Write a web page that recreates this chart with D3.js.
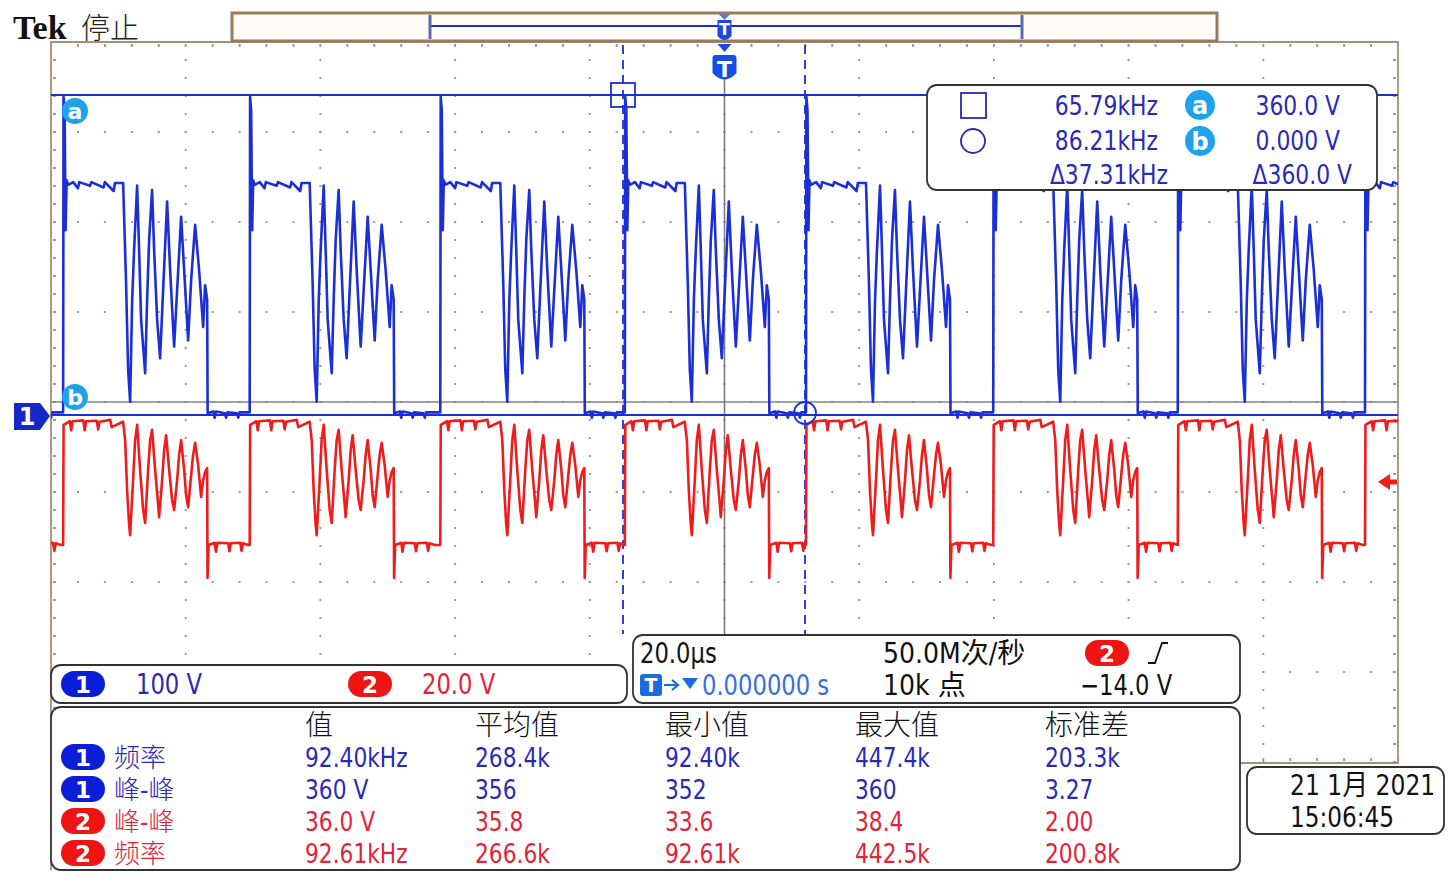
<!DOCTYPE html>
<html><head><meta charset="utf-8">
<script src="https://cdn.jsdelivr.net/npm/d3@7"></script>
<style>
body{margin:0;background:#fff}
svg{display:block}
text{font-family:"Liberation Sans Narrow","DejaVu Sans Condensed","Noto Sans CJK SC",sans-serif}
</style></head>
<body><svg id="c" width="1449" height="888"></svg>
<script>
// ---------------- DATA ----------------
// rising-edge times of each switching cycle (µs, relative to trigger)
const riseTimes = [-126.0, -98.2, -70.5, -42.2, -14.8, 12.1, 39.9, 67.3, 95.1];
// channel 1 (blue) shape of one cycle: [µs after rising edge, volts]
const ch1Cycle = [
  [0,3],[0.06,358],[0.22,343],[0.37,208],[0.52,264],[0.74,259],
  [1.5,262],[2.2,255],[2.4,262],[4.0,258],[4.2,262],[6.0,256],[6.2,262],[7.5,252],[7.7,261],[8.91,261],
  [9.35,148],[9.65,51],[9.95,15],[10.25,129],[10.54,186],[10.99,258],
  [11.28,186],[11.58,107],[12.18,47],[12.47,129],[12.77,197],[13.21,253],
  [13.51,186],[13.96,107],[14.40,64],[14.85,141],[15.44,240],
  [15.89,163],[16.48,77],[16.93,141],[17.52,223],
  [17.97,163],[18.56,84],[19.01,152],[19.60,214],
  [20.19,163],[20.79,99],[21.08,146],[21.38,130],[21.46,2],
  [22.3,4],[22.5,-3],[22.7,4],[24.0,2],[24.2,-3],[24.4,3],[25.8,2],[26.0,-3],[26.2,3],[27.5,3]
];
// channel 2 (red) shape of one cycle: [µs after rising edge, volts]
const ch2Cycle = [
  [0,-28],[0.07,-1.3],
  [1.0,-0.5],[1.2,-2.5],[1.4,-0.5],[3.0,-0.3],[3.2,-2.5],[3.4,-0.5],[5.0,-0.4],[5.2,-2.3],[5.4,-0.6],[7.0,-0.2],[7.2,-1.8],[8.9,-0.6],
  [9.21,-4.7],[9.50,-15.8],[9.80,-23.6],[9.95,-25.8],[10.39,-13.6],[10.69,-4.7],[10.99,-1.3],
  [11.43,-11.3],[11.88,-20.2],[12.18,-23.1],[12.62,-11.3],[12.92,-4.7],[13.21,-2.4],
  [13.66,-11.3],[14.11,-19.1],[14.25,-21.8],[14.70,-13.6],[15.00,-6.9],[15.29,-3.6],
  [15.74,-11.3],[16.18,-18.0],[16.48,-20.2],[16.93,-13.6],[17.22,-8.0],[17.52,-4.7],
  [17.97,-11.3],[18.26,-16.9],[18.56,-19.6],[19.01,-12.4],[19.30,-8.0],[19.60,-5.3],
  [20.04,-10.2],[20.49,-17.3],[20.79,-13.6],[21.08,-11.8],[21.38,-10.9],
  [21.44,-35.3],[21.60,-28],
  [22.5,-27.5],[22.7,-29.5],[22.9,-27.5],[24.5,-27.6],[24.7,-29.4],[24.9,-27.6],[26.3,-27.5],[26.5,-29.3],[26.7,-27.6],[27.5,-28]
];
const cursorTimes = [-15.07, 11.95];     // µs (square, circle)
const cursorVolts = [360, 0];            // V (a, b)
const trigLevel = -14.0;                 // V on ch2

const readFreq = ["65.79kHz","86.21kHz","Δ37.31kHz"];
const readVolt = ["360.0 V","0.000 V","Δ360.0 V"];

const chanScale = ["100 V","20.0 V"];
const horizRow1 = ["20.0µs","50.0M次/秒"];
const horizRow2 = ["0.000000 s","10k 点","−14.0 V"];

const measHeaders = ["值","平均值","最小值","最大值","标准差"];
const measChan   = ["1","1","2","2"];
const measNames  = ["频率","峰-峰","峰-峰","频率"];
const measValue  = ["92.40kHz","360 V","36.0 V","92.61kHz"];
const measMean   = ["268.4k","356","35.8","266.6k"];
const measMin    = ["92.40k","352","33.6","92.61k"];
const measMax    = ["447.4k","360","38.4","442.5k"];
const measStd    = ["203.3k","3.27","2.00","200.8k"];

const dateLines = ["21 1月 2021","15:06:45"];

// ---------------- STYLE ----------------
const BLUE="#1c2fd6", RED="#f01c1c", TBLUE="#2a2ab4", TRED="#e0243a", LBLUE="#1ea2ea", GRID="#9a9a9a";
const svg=d3.select("#c");
const P={l:51,r:1398,t:42,b:762};
const x=d3.scaleLinear().domain([-100,100]).range([P.l,P.r]);
const yDiv=d3.scaleLinear().domain([-4,4]).range([P.b,P.t]);
const y1=d3.scaleLinear().domain([0,360]).range([415,95]);
const y2=d3.scaleLinear().domain([0,-20]).range([419,509]);

svg.append("rect").attr("width",1449).attr("height",888).attr("fill","#fff");

// grid dots
const g=svg.append("g");
const tSteps=d3.range(-100,100.01,4);
const dSteps=d3.range(-4,4.001,0.2);
d3.range(-80,81,20).forEach(t=>{
  dSteps.forEach(d=>g.append("rect").attr("x",x(t)-1).attr("y",yDiv(d)-1).attr("width",2).attr("height",2).attr("fill",GRID));
});
d3.range(-3,3.1,1).forEach(d=>{
  tSteps.forEach(t=>g.append("rect").attr("x",x(t)-1).attr("y",yDiv(d)-1).attr("width",2).attr("height",2).attr("fill",GRID));
});
// border ticks
tSteps.forEach(t=>{
  g.append("rect").attr("x",x(t)-1).attr("y",P.t+2).attr("width",2).attr("height",3).attr("fill",GRID);
  g.append("rect").attr("x",x(t)-1).attr("y",P.b-4).attr("width",2).attr("height",3).attr("fill",GRID);
});
dSteps.forEach(d=>{
  g.append("rect").attr("x",P.l+2).attr("y",yDiv(d)-1).attr("width",3).attr("height",2).attr("fill",GRID);
  g.append("rect").attr("x",P.r-5).attr("y",yDiv(d)-1).attr("width",3).attr("height",2).attr("fill",GRID);
});
// center lines
g.append("line").attr("x1",P.l).attr("x2",P.r).attr("y1",yDiv(0)).attr("y2",yDiv(0)).attr("stroke","#858585").attr("stroke-width",1.6);
g.append("line").attr("x1",x(0)).attr("x2",x(0)).attr("y1",78).attr("y2",634).attr("stroke","#7d7d7d").attr("stroke-width",1.6);

// border
svg.append("path").attr("d",`M${P.l},${870}V${P.t}H${P.r}V${P.b+1}H1240`).attr("fill","none").attr("stroke","#a89078").attr("stroke-width",1.8);

// cursors (horizontal)
svg.append("line").attr("x1",P.l).attr("x2",P.r).attr("y1",y1(cursorVolts[0])).attr("y2",y1(cursorVolts[0])).attr("stroke",BLUE).attr("stroke-width",1.8);
svg.append("line").attr("x1",P.l).attr("x2",P.r).attr("y1",y1(cursorVolts[1])).attr("y2",y1(cursorVolts[1])).attr("stroke",BLUE).attr("stroke-width",2);
// cursors (vertical dashed)
cursorTimes.forEach(t=>svg.append("line").attr("x1",x(t)).attr("x2",x(t)).attr("y1",P.t+3).attr("y2",634)
  .attr("stroke",BLUE).attr("stroke-width",1.8).attr("stroke-dasharray","9,6"));

// waveforms
svg.append("clipPath").attr("id","cp").append("rect").attr("x",P.l).attr("y",P.t).attr("width",P.r-P.l).attr("height",P.b-P.t);
function buildTrace(cycle){
  const pts=[];
  riseTimes.forEach((r,i)=>{
    const next=i<riseTimes.length-1?riseTimes[i+1]:Infinity;
    cycle.forEach(([dt,v])=>{ if(r+dt<next) pts.push([r+dt,v]); });
  });
  return pts;
}
const wg=svg.append("g").attr("clip-path","url(#cp)");
wg.append("path").datum(buildTrace(ch2Cycle)).attr("fill","none").attr("stroke",RED).attr("stroke-width",2.6)
  .attr("stroke-linejoin","round").attr("d",d3.line().x(d=>x(d[0])).y(d=>y2(d[1])));
wg.append("path").datum(buildTrace(ch1Cycle)).attr("fill","none").attr("stroke",BLUE).attr("stroke-width",2.6)
  .attr("stroke-linejoin","round").attr("d",d3.line().x(d=>x(d[0])).y(d=>y1(d[1])));

// cursor markers
svg.append("rect").attr("x",x(cursorTimes[0])-12).attr("y",y1(cursorVolts[0])-12).attr("width",24).attr("height",24)
  .attr("fill","none").attr("stroke",BLUE).attr("stroke-width",1.8);
svg.append("circle").attr("cx",x(cursorTimes[1])).attr("cy",y1(cursorVolts[1])-2).attr("r",11)
  .attr("fill","none").attr("stroke",BLUE).attr("stroke-width",1.8);
function badgeCircle(cx,cy,r,letter,fs){
  svg.append("circle").attr("cx",cx).attr("cy",cy).attr("r",r).attr("fill",LBLUE);
  svg.append("text").attr("x",cx).attr("y",cy+fs*0.36).attr("text-anchor","middle").attr("fill","#fff")
    .attr("font-size",fs).attr("font-weight","bold").style("font-family","DejaVu Sans").text(letter);
}
badgeCircle(75,y1(cursorVolts[0])+16,13,"a",22);
badgeCircle(75,y1(cursorVolts[1])-18,13,"b",22);

// ch1 ground marker
svg.append("path").attr("d","M14,403H40L50,416L40,430H14Z").attr("fill","#1428c8");
svg.append("text").attr("x",27).attr("y",425).attr("text-anchor","middle").attr("fill","#fff").attr("font-size",24)
  .attr("font-weight","bold").style("font-family","DejaVu Sans").text("1");
// trigger level arrow (ch2)
const ty=y2(trigLevel);
svg.append("path").attr("d",`M1378,${ty}L1390,${ty-8}L1390,${ty-2.5}H1397V${ty+2.5}H1390L1390,${ty+8}Z`).attr("fill",RED);

// top record bar
svg.append("rect").attr("x",232).attr("y",13).attr("width",985).attr("height",28).attr("fill","#fffcf8").attr("stroke","#9c7b5c").attr("stroke-width",3);
svg.append("line").attr("x1",430).attr("x2",1022).attr("y1",26).attr("y2",26).attr("stroke",BLUE).attr("stroke-width",2);
[430,1022].forEach(xx=>svg.append("line").attr("x1",xx).attr("x2",xx).attr("y1",15).attr("y2",39).attr("stroke","#5a6aa8").attr("stroke-width",3));
// trigger markers
const tx=x(0);
svg.append("path").attr("d",`M${tx-6},14H${tx+6}L${tx},20Z`).attr("fill","#6a7ab0");
svg.append("path").attr("d",`M${tx-7},20H${tx+7}V36Q${tx},44 ${tx-7},36Z`).attr("fill","#2046e0");
svg.append("text").attr("x",tx).attr("y",35).attr("text-anchor","middle").attr("fill","#fff").attr("font-size",16).attr("font-weight","bold").style("font-family","DejaVu Sans").text("T");
svg.append("path").attr("d",`M${tx-7},44H${tx+7}L${tx},52Z`).attr("fill","#2046e0");
svg.append("path").attr("d",`M${tx-12},58Q${tx-12},55 ${tx-9},55H${tx+9}Q${tx+12},55 ${tx+12},58V73Q${tx},86 ${tx-12},73Z`).attr("fill","#1450e8");
svg.append("text").attr("x",tx).attr("y",77).attr("text-anchor","middle").attr("fill","#fff").attr("font-size",22).attr("font-weight","bold").style("font-family","DejaVu Sans").text("T");

// Tek title
svg.append("text").attr("x",13).attr("y",39).attr("font-size",34).attr("font-weight","bold").style("font-family","Liberation Serif").attr("fill","#111").text("Tek");
svg.append("text").attr("x",81).attr("y",39).attr("font-size",29).attr("font-weight",300).style("font-family","Noto Sans CJK SC").attr("fill","#222").text("停止");

// ---------- boxes ----------
function box(x0,y0,w,h){
  svg.append("rect").attr("x",x0).attr("y",y0).attr("width",w).attr("height",h).attr("rx",10).attr("ry",10)
    .attr("fill","#fff").attr("stroke","#333").attr("stroke-width",1.8);
}
function txt(xx,yy,s,col,fs,anchor,k){
  const t=svg.append("text").attr("x",xx).attr("y",yy).attr("fill",col).attr("font-size",fs)
    .attr("text-anchor",anchor||"start").text(s);
  const f=k===undefined?0.9:k;
  if(f!==1){
    const w=t.node().getComputedTextLength();
    t.attr("textLength",w*f).attr("lengthAdjust","spacingAndGlyphs");
  }
  return t;
}
function pill(cx,cy,label,col){
  svg.append("rect").attr("x",cx-22).attr("y",cy-13).attr("width",44).attr("height",26).attr("rx",13).attr("fill",col);
  svg.append("text").attr("x",cx).attr("y",cy+8.5).attr("text-anchor","middle").attr("fill","#fff").attr("font-size",23)
    .attr("font-weight","bold").style("font-family","DejaVu Sans").text(label);
}

// cursor readout
box(927,85,450,105);
svg.append("rect").attr("x",961).attr("y",93).attr("width",25).attr("height",25).attr("fill","none").attr("stroke",TBLUE).attr("stroke-width",1.8);
svg.append("circle").attr("cx",973).attr("cy",141).attr("r",12).attr("fill","none").attr("stroke",TBLUE).attr("stroke-width",1.8);
txt(1158,115,readFreq[0],TBLUE,27,"end");
txt(1158,150,readFreq[1],TBLUE,27,"end");
txt(1168,184,readFreq[2],TBLUE,27,"end");
badgeCircle(1200,105,15,"a",24);
badgeCircle(1200,141,15,"b",24);
txt(1340,115,readVolt[0],TBLUE,27,"end");
txt(1340,150,readVolt[1],TBLUE,27,"end");
txt(1352,184,readVolt[2],TBLUE,27,"end");

// channel scale box
box(51,665,576,38);
pill(83,684,"1","#0a1ed8");
txt(136,694,chanScale[0],TBLUE,28);
pill(370,684,"2","#ee1414");
txt(422,694,chanScale[1],TRED,28);

// horizontal / trigger box
box(633,635,607,68);
txt(640,663,horizRow1[0],"#111",28);
txt(883,663,horizRow1[1],"#111",28,"start",1);
pill(1107,653,"2","#ee1414");
svg.append("path").attr("d","M1148,663H1155L1162,643H1168").attr("fill","none").attr("stroke","#111").attr("stroke-width",1.8);
svg.append("rect").attr("x",640).attr("y",674).attr("width",22).attr("height",22).attr("rx",3).attr("fill","#1e6ae0");
svg.append("text").attr("x",651).attr("y",692).attr("text-anchor","middle").attr("fill","#fff").attr("font-size",19).attr("font-weight","bold").style("font-family","DejaVu Sans").text("T");
svg.append("path").attr("d","M664,685H677M672,680L678,685L672,690").attr("fill","none").attr("stroke","#1e6ae0").attr("stroke-width",2.2);
svg.append("path").attr("d","M682,678H698L690,689Z").attr("fill","#1e6ae0");
txt(702,695,horizRow2[0],"#3a6ed6",28);
txt(883,695,horizRow2[1],"#111",28,"start",1);
txt(1080,695,horizRow2[2],"#111",28);

// measurement box
box(51,707,1189,163);
const colX=[305,475,665,855,1045];
const LAB_FONT='"DejaVu Sans Condensed","Noto Sans CJK SC",sans-serif';
measHeaders.forEach((h,i)=>txt(colX[i],735,h,"#111",28,"start",1).style("font-family",LAB_FONT).attr("font-weight",300));
const rowY=[757,789,821,853];
const cols=[measValue,measMean,measMin,measMax,measStd];
measChan.forEach((c,r)=>{
  const col=c==="1"?TBLUE:TRED;
  pill(83,rowY[r],c,c==="1"?"#0a1ed8":"#ee1414");
  txt(114,rowY[r]+10,measNames[r],col,26,"start",1).style("font-family",LAB_FONT).attr("font-weight",300);
  cols.forEach((arr,i)=>txt(colX[i],rowY[r]+10,arr[r],col,26,"start",0.93));
});

// date box
box(1247,767,197,67);
txt(1290,795,dateLines[0],"#111",28,"start",0.93);
txt(1290,827,dateLines[1],"#111",28,"start",0.92);
</script>
</body></html>
